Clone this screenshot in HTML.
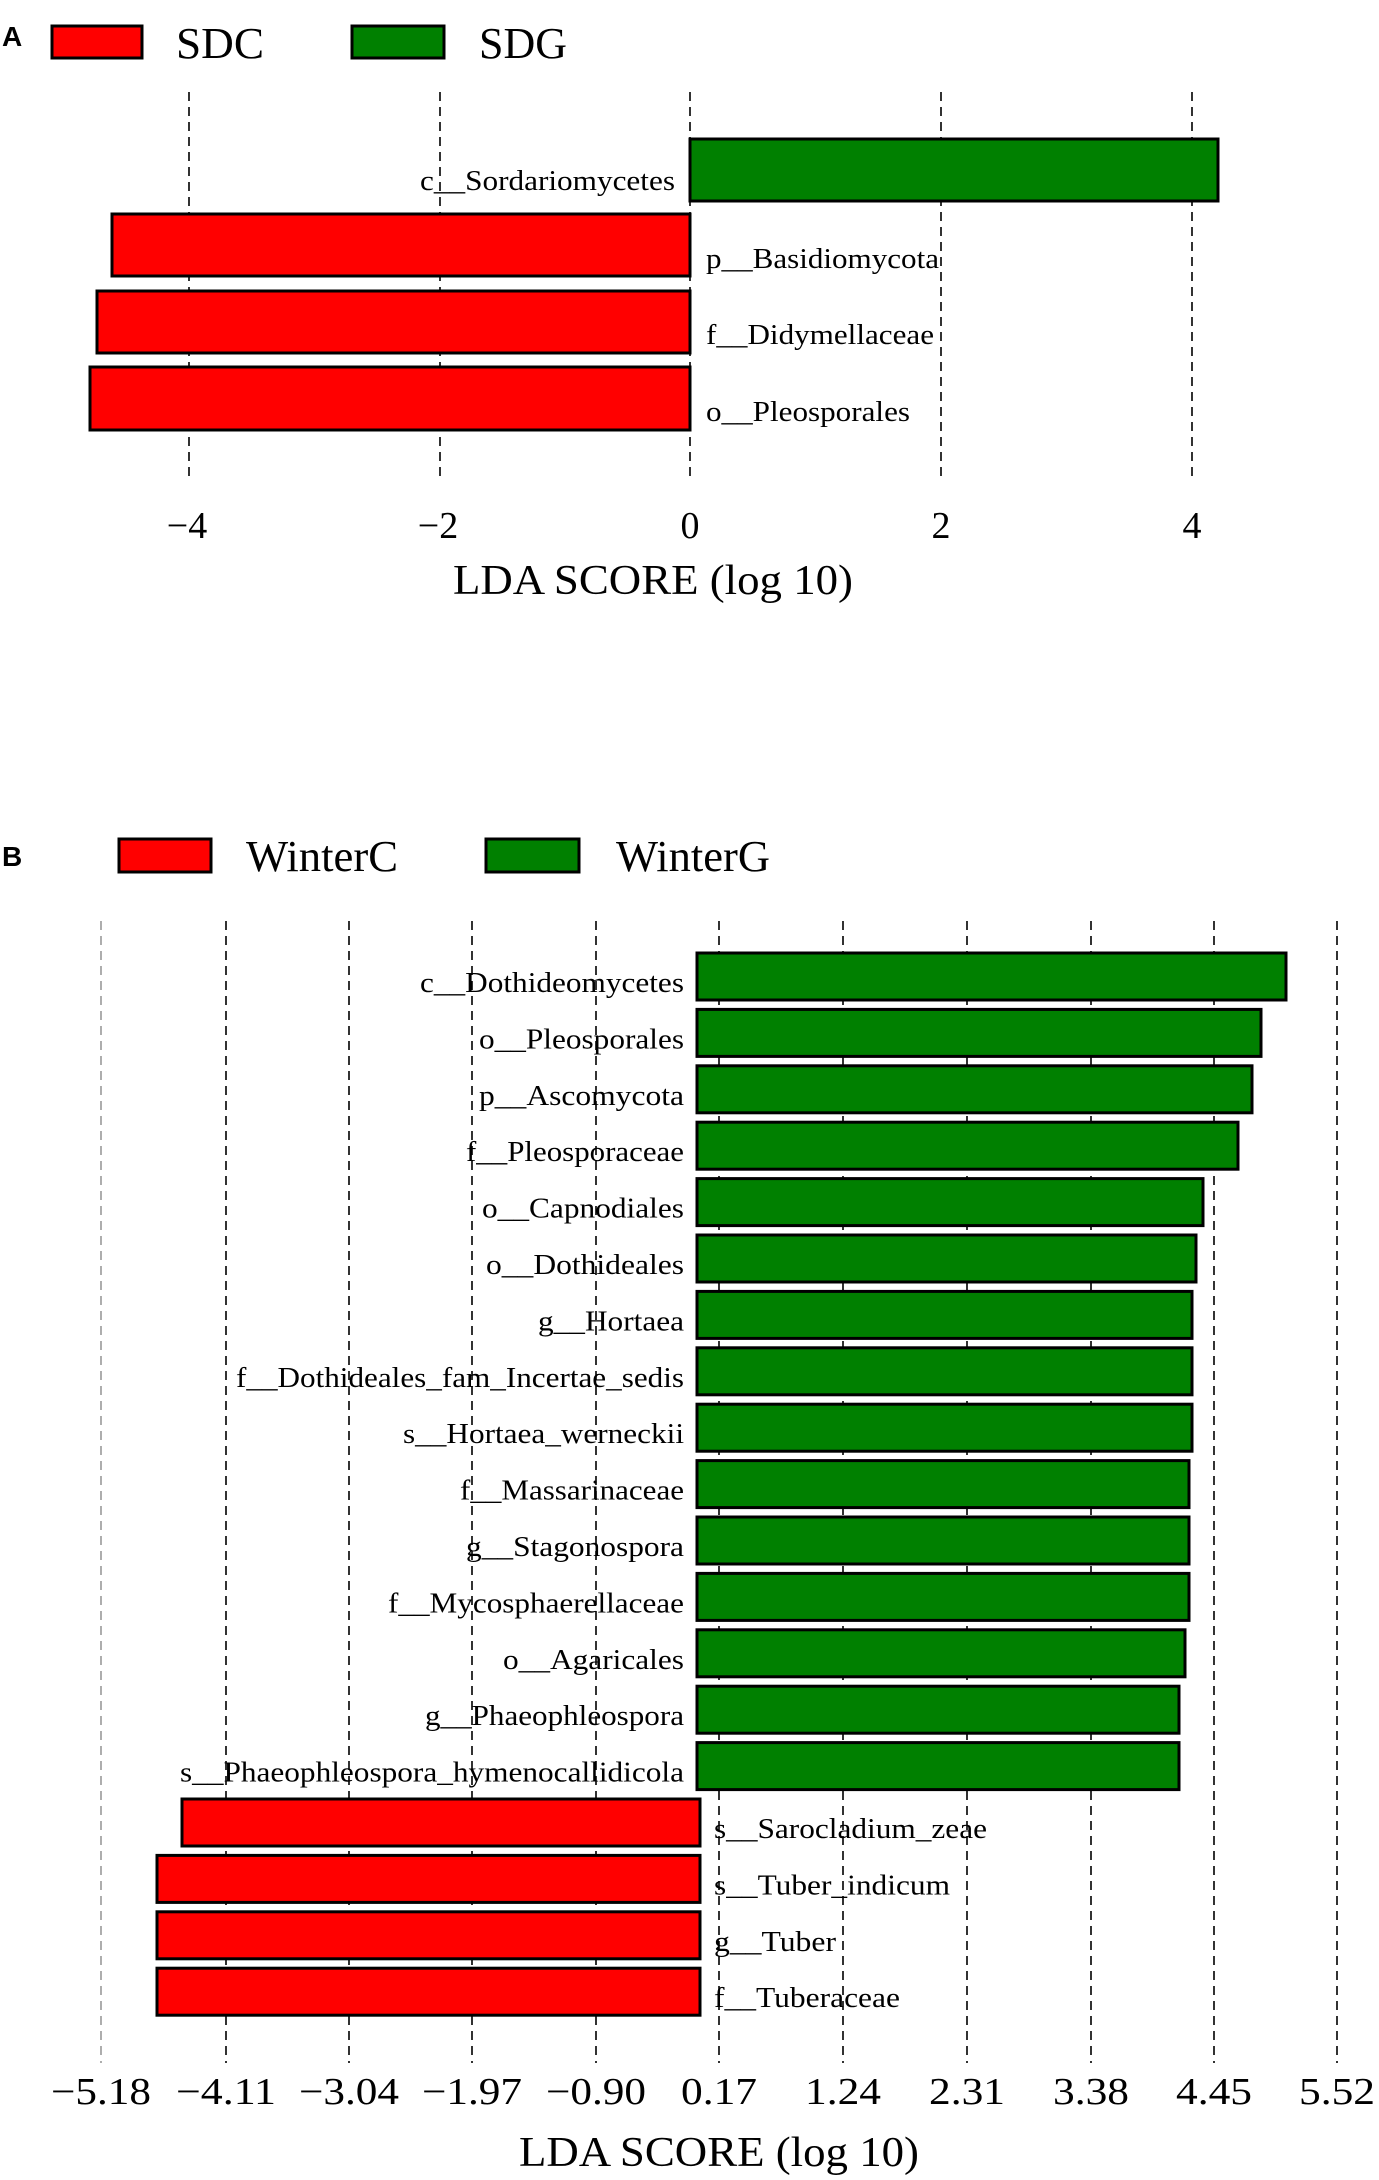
<!DOCTYPE html>
<html><head><meta charset="utf-8"><style>body{margin:0;background:#fff}svg{display:block}</style></head><body>
<svg width="1379" height="2180" xmlns="http://www.w3.org/2000/svg" font-family="'Liberation Serif', serif">
<rect width="1379" height="2180" fill="#fff"/>
<!-- Panel A -->
<text x="2" y="46" font-family="'Liberation Sans', sans-serif" font-weight="bold" font-size="28">A</text>
<rect x="52" y="26" width="90" height="32" fill="#ff0000" stroke="#000" stroke-width="3"/>
<text x="176" y="58" font-size="44" textLength="88" lengthAdjust="spacingAndGlyphs">SDC</text>
<rect x="352" y="26" width="92" height="32" fill="#008000" stroke="#000" stroke-width="3"/>
<text x="479" y="58" font-size="44" textLength="88" lengthAdjust="spacingAndGlyphs">SDG</text>
<g stroke="#000" stroke-width="1.6" stroke-dasharray="9,6">
<line x1="189" y1="92" x2="189" y2="482"/><line x1="440" y1="92" x2="440" y2="482"/>
<line x1="690" y1="92" x2="690" y2="482"/><line x1="941" y1="92" x2="941" y2="482"/>
<line x1="1192" y1="92" x2="1192" y2="482"/>
</g>
<g stroke="#000" stroke-width="3">
<rect x="690" y="139" width="528" height="62" fill="#008000"/>
<rect x="112" y="214" width="578" height="62" fill="#ff0000"/>
<rect x="97" y="291" width="593" height="62" fill="#ff0000"/>
<rect x="90" y="367" width="600" height="63" fill="#ff0000"/>
</g>
<g font-size="29">
<text x="675" y="190" text-anchor="end" textLength="255" lengthAdjust="spacingAndGlyphs">c__Sordariomycetes</text>
<text x="706" y="268" textLength="233" lengthAdjust="spacingAndGlyphs">p__Basidiomycota</text>
<text x="706" y="344" textLength="228" lengthAdjust="spacingAndGlyphs">f__Didymellaceae</text>
<text x="706" y="421" textLength="204" lengthAdjust="spacingAndGlyphs">o__Pleosporales</text>
</g>
<g font-size="38" text-anchor="middle">
<text x="187" y="538">−4</text><text x="438" y="538">−2</text><text x="690" y="538">0</text><text x="941" y="538">2</text><text x="1192" y="538">4</text>
</g>
<text x="653" y="594" font-size="42" text-anchor="middle" textLength="400" lengthAdjust="spacingAndGlyphs">LDA SCORE (log 10)</text>

<!-- Panel B -->
<text x="2" y="866" font-family="'Liberation Sans', sans-serif" font-weight="bold" font-size="28">B</text>
<rect x="119" y="839" width="92" height="33" fill="#ff0000" stroke="#000" stroke-width="3"/>
<text x="246" y="871" font-size="44" textLength="152" lengthAdjust="spacingAndGlyphs">WinterC</text>
<rect x="486" y="839" width="93" height="33" fill="#008000" stroke="#000" stroke-width="3"/>
<text x="616" y="871" font-size="44" textLength="154" lengthAdjust="spacingAndGlyphs">WinterG</text>
<g stroke="#000" stroke-width="1.6" stroke-dasharray="9,6">
<line x1="101" y1="921" x2="101" y2="2063" stroke="#777" stroke-width="1.2"/>
<line x1="226" y1="921" x2="226" y2="2063"/><line x1="349" y1="921" x2="349" y2="2063"/>
<line x1="472" y1="921" x2="472" y2="2063"/><line x1="596" y1="921" x2="596" y2="2063"/>
<line x1="719" y1="921" x2="719" y2="2063"/><line x1="843" y1="921" x2="843" y2="2063"/>
<line x1="967" y1="921" x2="967" y2="2063"/><line x1="1091" y1="921" x2="1091" y2="2063"/>
<line x1="1214" y1="921" x2="1214" y2="2063"/>
<line x1="1337" y1="921" x2="1337" y2="2063"/>
</g>
<g stroke="#000" stroke-width="3" fill="#008000">
<rect x="697" y="953" width="589" height="47"/>
<rect x="697" y="1009.4" width="564" height="47"/>
<rect x="697" y="1065.8" width="555" height="47"/>
<rect x="697" y="1122.2" width="541" height="47"/>
<rect x="697" y="1178.6" width="506" height="47"/>
<rect x="697" y="1235" width="499" height="47"/>
<rect x="697" y="1291.4" width="495" height="47"/>
<rect x="697" y="1347.8" width="495" height="47"/>
<rect x="697" y="1404.2" width="495" height="47"/>
<rect x="697" y="1460.6" width="492" height="47"/>
<rect x="697" y="1517" width="492" height="47"/>
<rect x="697" y="1573.4" width="492" height="47"/>
<rect x="697" y="1629.8" width="488" height="47"/>
<rect x="697" y="1686.2" width="482" height="47"/>
<rect x="697" y="1742.6" width="482" height="47"/>
</g>
<g stroke="#000" stroke-width="3" fill="#ff0000">
<rect x="182" y="1799" width="518" height="47"/>
<rect x="157" y="1855.4" width="543" height="47"/>
<rect x="157" y="1911.8" width="543" height="47"/>
<rect x="157" y="1968.2" width="543" height="47"/>
</g>
<g font-size="29" text-anchor="end">
<text x="684" y="992" textLength="264" lengthAdjust="spacingAndGlyphs">c__Dothideomycetes</text>
<text x="684" y="1048.4" textLength="205" lengthAdjust="spacingAndGlyphs">o__Pleosporales</text>
<text x="684" y="1104.8" textLength="205" lengthAdjust="spacingAndGlyphs">p__Ascomycota</text>
<text x="684" y="1161.2" textLength="218" lengthAdjust="spacingAndGlyphs">f__Pleosporaceae</text>
<text x="684" y="1217.6" textLength="202" lengthAdjust="spacingAndGlyphs">o__Capnodiales</text>
<text x="684" y="1274" textLength="198" lengthAdjust="spacingAndGlyphs">o__Dothideales</text>
<text x="684" y="1330.4" textLength="146" lengthAdjust="spacingAndGlyphs">g__Hortaea</text>
<text x="684" y="1386.8" textLength="448" lengthAdjust="spacingAndGlyphs">f__Dothideales_fam_Incertae_sedis</text>
<text x="684" y="1443.2" textLength="281" lengthAdjust="spacingAndGlyphs">s__Hortaea_werneckii</text>
<text x="684" y="1499.6" textLength="224" lengthAdjust="spacingAndGlyphs">f__Massarinaceae</text>
<text x="684" y="1556" textLength="218" lengthAdjust="spacingAndGlyphs">g__Stagonospora</text>
<text x="684" y="1612.4" textLength="296" lengthAdjust="spacingAndGlyphs">f__Mycosphaerellaceae</text>
<text x="684" y="1668.8" textLength="181" lengthAdjust="spacingAndGlyphs">o__Agaricales</text>
<text x="684" y="1725.2" textLength="259" lengthAdjust="spacingAndGlyphs">g__Phaeophleospora</text>
<text x="684" y="1781.6" textLength="504" lengthAdjust="spacingAndGlyphs">s__Phaeophleospora_hymenocallidicola</text>
</g>
<g font-size="29">
<text x="714" y="1838" textLength="273" lengthAdjust="spacingAndGlyphs">s__Sarocladium_zeae</text>
<text x="714" y="1894.4" textLength="236" lengthAdjust="spacingAndGlyphs">s__Tuber_indicum</text>
<text x="714" y="1950.8" textLength="122" lengthAdjust="spacingAndGlyphs">g__Tuber</text>
<text x="714" y="2007.2" textLength="186" lengthAdjust="spacingAndGlyphs">f__Tuberaceae</text>
</g>
<g font-size="38" text-anchor="middle">
<text x="101" y="2104" textLength="100" lengthAdjust="spacingAndGlyphs">−5.18</text>
<text x="226" y="2104" textLength="100" lengthAdjust="spacingAndGlyphs">−4.11</text>
<text x="349" y="2104" textLength="100" lengthAdjust="spacingAndGlyphs">−3.04</text>
<text x="472" y="2104" textLength="100" lengthAdjust="spacingAndGlyphs">−1.97</text>
<text x="596" y="2104" textLength="100" lengthAdjust="spacingAndGlyphs">−0.90</text>
<text x="719" y="2104" textLength="76" lengthAdjust="spacingAndGlyphs">0.17</text>
<text x="843" y="2104" textLength="76" lengthAdjust="spacingAndGlyphs">1.24</text>
<text x="967" y="2104" textLength="76" lengthAdjust="spacingAndGlyphs">2.31</text>
<text x="1091" y="2104" textLength="76" lengthAdjust="spacingAndGlyphs">3.38</text>
<text x="1214" y="2104" textLength="76" lengthAdjust="spacingAndGlyphs">4.45</text>
<text x="1337" y="2104" textLength="76" lengthAdjust="spacingAndGlyphs">5.52</text>
</g>
<text x="719" y="2166" font-size="42" text-anchor="middle" textLength="400" lengthAdjust="spacingAndGlyphs">LDA SCORE (log 10)</text>
</svg>
</body></html>
